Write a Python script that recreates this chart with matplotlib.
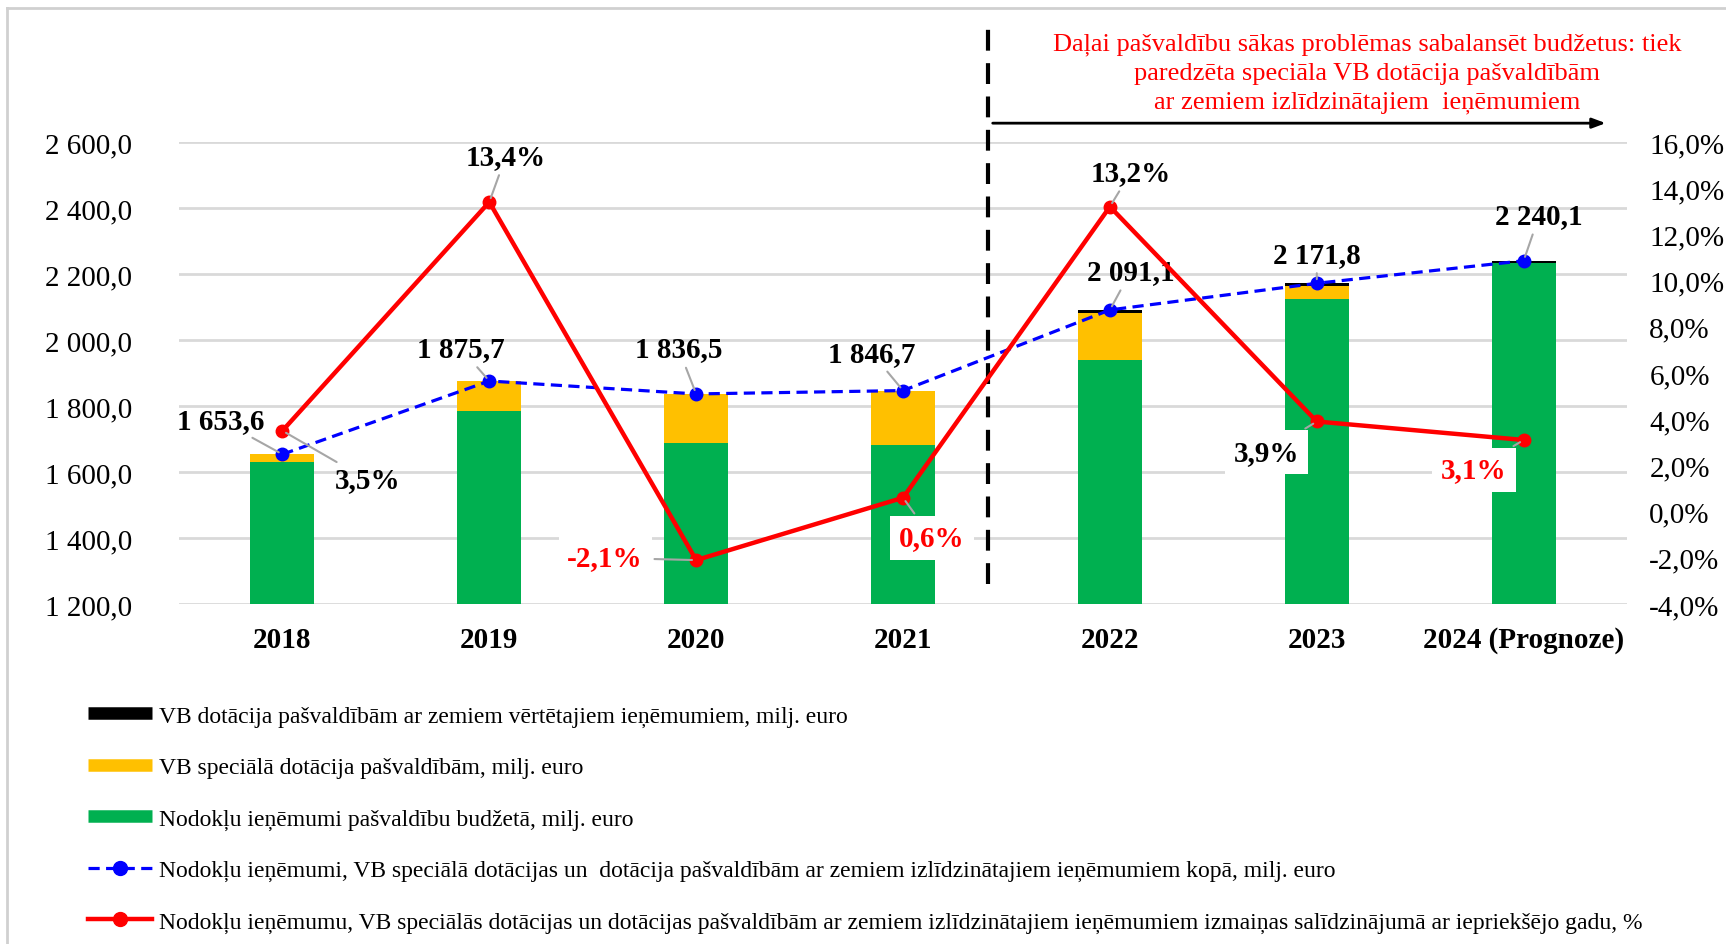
import matplotlib
matplotlib.use("Agg")
import matplotlib.pyplot as plt
from matplotlib.lines import Line2D

plt.rcParams['font.family'] = ['Liberation Serif', 'DejaVu Serif']

years = ["2018", "2019", "2020", "2021", "2022", "2023", "2024 (Prognoze)"]
tax_revenue = [1629.0, 1786.0, 1688.0, 1681.0, 1939.0, 2124.0, 2232.0]
special_grant = [24.6, 89.7, 148.5, 165.7, 144.0, 40.0, 0.0]
low_income_grant = [0.0, 0.0, 0.0, 0.0, 8.1, 7.8, 8.1]
totals = [1653.6, 1875.7, 1836.5, 1846.7, 2091.1, 2171.8, 2240.1]
change_pct = [3.5, 13.4, -2.1, 0.6, 13.2, 3.9, 3.1]

left_ticks = [1200, 1400, 1600, 1800, 2000, 2200, 2400, 2600]
right_ticks = [-4, -2, 0, 2, 4, 6, 8, 10, 12, 14, 16]

lbl_total = ["VB dotācija pašvaldībām ar zemiem vērtētajiem ieņēmumiem, milj. euro",
             "VB speciālā dotācija pašvaldībām, milj. euro",
             "Nodokļu ieņēmumi pašvaldību budžetā, milj. euro",
             "Nodokļu ieņēmumi, VB speciālā dotācijas un  dotācija pašvaldībām ar zemiem izlīdzinātajiem ieņēmumiem kopā, milj. euro",
             "Nodokļu ieņēmumu, VB speciālās dotācijas un dotācijas pašvaldībām ar zemiem izlīdzinātajiem ieņēmumiem izmaiņas salīdzinājumā ar iepriekšējo gadu, %"]
note = ("Daļai pašvaldību sākas problēmas sabalansēt budžetus: tiek\n"
        "paredzēta speciāla VB dotācija pašvaldībām\n"
        "ar zemiem izlīdzinātajiem  ieņēmumiem")

GREEN = "#00b050"
YELLOW = "#ffc000"
BLUE = "#0000ff"
RED = "#ff0000"
GRID = "#d9d9d9"
LEADER = "#a6a6a6"


def fmt_num(v):
    return f"{v:,.1f}".replace(",", " ").replace(".", ",")


def fmt_pct(v):
    return f"{v:.1f}%".replace(".", ",")


fig = plt.figure(figsize=(17.26, 9.45), dpi=100)
ax = fig.add_axes([0.1037, 0.3598, 0.839, 0.4889])
ax2 = ax.twinx()

x = list(range(len(years)))
w = 0.31
ax.bar(x, tax_revenue, w, color=GREEN, zorder=2)
ax.bar(x, special_grant, w, bottom=tax_revenue, color=YELLOW, zorder=2)
base2 = [a + b for a, b in zip(tax_revenue, special_grant)]
ax.bar(x, low_income_grant, w, bottom=base2, color="black", zorder=2)
ax.plot(x, totals, color=BLUE, lw=2.3, ls=(0, (3.5, 2)), marker="o", ms=9, zorder=4)

ax2.plot(x, change_pct, color=RED, lw=3.2, marker="o", ms=9, zorder=5)

ax.set_xlim(-0.5, 6.5)
ax.set_ylim(1200, 2600)
ax2.set_ylim(-4, 16)
ax.set_yticks(left_ticks)
ax.set_yticklabels([fmt_num(v) for v in left_ticks])
ax2.set_yticks(right_ticks)
ax2.set_yticklabels([fmt_pct(v) for v in right_ticks])
ax.set_xticks(x)
ax.set_xticklabels(years, fontweight="bold")

ax.grid(axis="y", color=GRID, lw=2, zorder=0)
ax.set_axisbelow(True)
for a in (ax, ax2):
    for s in a.spines.values():
        s.set_visible(False)
ax.tick_params(axis="y", length=0, labelsize=21, pad=34)
ax.tick_params(axis="x", length=0, labelsize=21, pad=16)
ax2.tick_params(axis="y", length=0, labelsize=21, pad=16)

# labels for totals (left axis) : text position in data coords
total_pos = [(-0.30, 1757), (0.864, 1973), (1.915, 1973), (2.85, 1960),
             (4.10, 2207), (5.0, 2260), (6.075, 2377)]
for i, (tx, ty) in enumerate(total_pos):
    ax.annotate(fmt_num(totals[i]), xy=(x[i], totals[i]), xytext=(tx, ty),
                ha="center", va="center", fontsize=21, fontweight="bold",
                arrowprops=dict(arrowstyle="-", color=LEADER, lw=1.5,
                                shrinkA=2, shrinkB=3), zorder=6)

pct_pos = [(0.41, 1.38), (1.08, 15.38), (1.56, -2.0), (3.14, -1.14),
           (4.10, 14.67), (4.757, 2.57), (5.76, 1.81)]
pct_col = ["black", "black", RED, RED, "black", "black", RED]
pct_box = [False, False, True, True, False, True, True]
for i, (tx, ty) in enumerate(pct_pos):
    kw = {}
    if pct_box[i]:
        kw["bbox"] = dict(boxstyle="square,pad=0.3", fc="white", ec="none")
    ax2.annotate(fmt_pct(change_pct[i]), xy=(x[i], change_pct[i]), xytext=(tx, ty),
                 ha="center", va="center", fontsize=21, fontweight="bold",
                 color=pct_col[i], zorder=7,
                 arrowprops=dict(arrowstyle="-", color=LEADER, lw=1.5,
                                 shrinkA=2, shrinkB=3), **kw)

# vertical divider and arrow
ax.plot([3.41, 3.41], [1262, 2973], color="black", lw=3, ls=(0, (5, 3)),
        clip_on=False, zorder=3)
ax.annotate("", xy=(6.41, 2657), xytext=(3.42, 2657), annotation_clip=False,
            arrowprops=dict(arrowstyle="-|>,head_length=0.8,head_width=0.3",
                            color="black", lw=2))
fig.text(0.792, 0.922, note, color=RED, fontsize=19, ha="center", va="center",
         multialignment="center", linespacing=1.37)

# light frame
fig.add_artist(Line2D([0.004, 0.004], [0, 0.99], color="#d0d0d0", lw=2))
fig.add_artist(Line2D([0.004, 1], [0.99, 0.99], color="#d0d0d0", lw=2))

handles = [Line2D([], [], color="black", lw=9, solid_capstyle="butt"),
           Line2D([], [], color=YELLOW, lw=9, solid_capstyle="butt"),
           Line2D([], [], color=GREEN, lw=9, solid_capstyle="butt"),
           Line2D([], [], color=BLUE, lw=2.3, ls=(0, (3.5, 2)), marker="o", ms=10),
           Line2D([], [], color=RED, lw=3.2, marker="o", ms=10)]
fig.legend(handles, lbl_total, loc="upper left", bbox_to_anchor=(0.051, 0.253),
           frameon=False, fontsize=17, handlelength=2.7, handletextpad=0.3,
           labelspacing=1.265, borderpad=0, borderaxespad=0)

fig.savefig("out.png", dpi=100)
